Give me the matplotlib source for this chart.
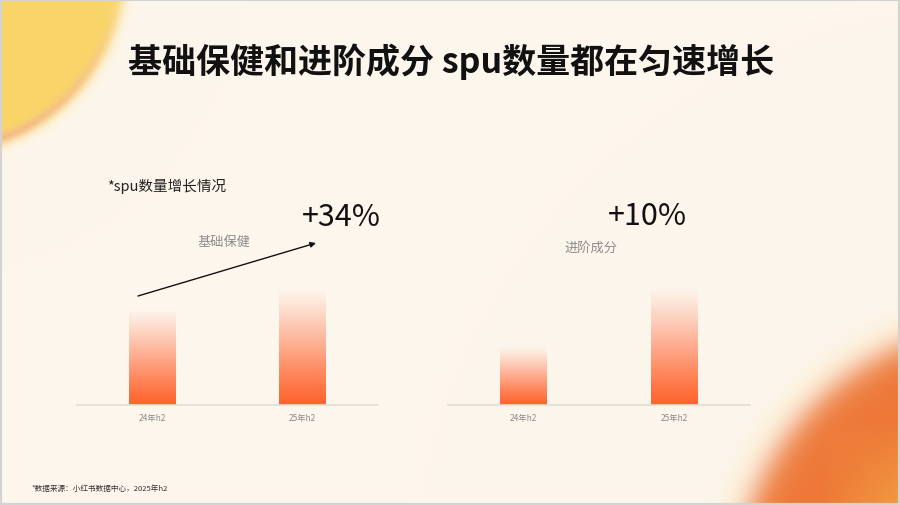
import numpy as np
import matplotlib
matplotlib.use('Agg')
import matplotlib.pyplot as plt
from matplotlib.patches import Rectangle

plt.rcParams['font.family'] = ['Noto Sans CJK SC', 'DejaVu Sans']

# ---------------- data ----------------
title = '基础保健和进阶成分 spu数量都在匀速增长'
subtitle = '*spu数量增长情况'
periods = ['24年h2', '25年h2']
groups = ['基础保健', '进阶成分']
basic_values = [82, 100]
advanced_values = [50, 100]
growth_labels = ['+34%', '+10%']
source = '*数据来源：小红书数据中心，2025年h2'

W, H = 900, 506
fig = plt.figure(figsize=(9, 5.06), dpi=100)

# ---------------- decorative background ----------------
bg = fig.add_axes([0, 0, 1, 1], zorder=-10)
yy, xx = np.mgrid[0:H, 0:W] + 0.5
cream = np.array([253, 246, 236]) / 255
img = np.ones((H, W, 3)) * cream

d1 = np.hypot(xx + 60, yy + 30) - 185
a1 = 1 / (1 + np.exp(d1 / 3.5))
yellow = np.array([249, 212, 104]) / 255
img = img * (1 - a1[..., None]) + yellow * a1[..., None]
rim = np.exp(-((d1 + 5) / 5) ** 2) * 0.55 * np.clip(yy / 140, 0, 1)
pink = np.array([240, 165, 140]) / 255
img = img * (1 - rim[..., None]) + pink * rim[..., None]

d2 = np.hypot(xx - 1010, yy - 600) - 275
halo = np.exp(-((d2 - 20) / 12) ** 2) * 0.5
light = np.array([255, 251, 228]) / 255
img = img * (1 - halo[..., None]) + light * halo[..., None]
a2 = 1 / (1 + np.exp(d2 / 9))
t = np.clip((xx - 820) / 80, 0, 1) * np.clip((yy - 420) / 86, 0, 1)
orange1 = np.array([237, 120, 56]) / 255
orange2 = np.array([241, 155, 64]) / 255
orange = orange1 * (1 - t[..., None]) + orange2 * t[..., None]
img = img * (1 - a2[..., None]) + orange * a2[..., None]

bg.imshow(img, extent=[0, W, H, 0], aspect='auto', interpolation='bilinear')
bg.set_xlim(0, W)
bg.set_ylim(H, 0)
bg.axis('off')
bg.add_patch(Rectangle((0, 0), W, H, fill=False, ec='#D3D3D3', lw=3))

# arrow annotation
bg.annotate('', xy=(316, 244), xytext=(138, 297),
            arrowprops=dict(arrowstyle='-|>', color='#111111', lw=1.0,
                            mutation_scale=8, shrinkA=0, shrinkB=0))


def grad_bars(ax, values):
    bars = ax.bar(range(len(values)), values, width=0.31, color='none', zorder=1)
    n = 256
    tt = np.linspace(0, 1, n)[:, None]
    bottom = np.array([255, 100, 45]) / 255
    top = np.array([255, 150, 120]) / 255
    rgba = np.zeros((n, 1, 4))
    rgba[..., :3] = bottom * (1 - tt[..., None]) + top * tt[..., None]
    rgba[..., 3] = np.clip(1 - tt ** 1.4, 0, 1)
    for b in bars:
        x0 = b.get_x()
        ax.imshow(rgba, extent=[x0, x0 + b.get_width(), 0, b.get_height()],
                  origin='lower', aspect='auto', zorder=2, interpolation='bilinear')
    ax.set_xlim(-0.5, 1.5)
    ax.set_ylim(0, 100)
    ax.patch.set_alpha(0)
    for s in ['top', 'right', 'left']:
        ax.spines[s].set_visible(False)
    ax.spines['bottom'].set_color('#E2DDD6')
    ax.spines['bottom'].set_linewidth(1.2)
    ax.set_yticks([])
    ax.set_xticks(range(len(values)))
    ax.set_xticklabels(periods, fontsize=6, color='#8a8a8a')
    ax.tick_params(axis='x', length=0, pad=6)


ax1 = fig.add_axes([77 / W, 1 - 406 / H, 301 / W, 116 / H])
grad_bars(ax1, basic_values)
ax2 = fig.add_axes([448 / W, 1 - 406 / H, 302 / W, 116 / H])
grad_bars(ax2, advanced_values)

# ---------------- texts ----------------
fig.text(451 / W, 1 - 62 / H, title, ha='center', va='center',
         fontsize=24.5, fontweight='bold', color='#111111')
fig.text(107 / W, 1 - 186 / H, subtitle, ha='left', va='center',
         fontsize=10.5, fontweight='medium', color='#222222')
fig.text(341 / W, 1 - 218 / H, growth_labels[0], ha='center', va='center',
         fontsize=22, fontweight='light', color='#111111')
fig.text(647 / W, 1 - 217 / H, growth_labels[1], ha='center', va='center',
         fontsize=22, fontweight='light', color='#111111')
fig.text(224 / W, 1 - 242 / H, groups[0], ha='center', va='center',
         fontsize=9.5, color='#8c8c8c')
fig.text(591 / W, 1 - 248 / H, groups[1], ha='center', va='center',
         fontsize=9.5, color='#8c8c8c')
fig.text(32 / W, 1 - 489 / H, source, ha='left', va='center',
         fontsize=5.5, color='#333333')

fig.savefig('out.png', dpi=100)
